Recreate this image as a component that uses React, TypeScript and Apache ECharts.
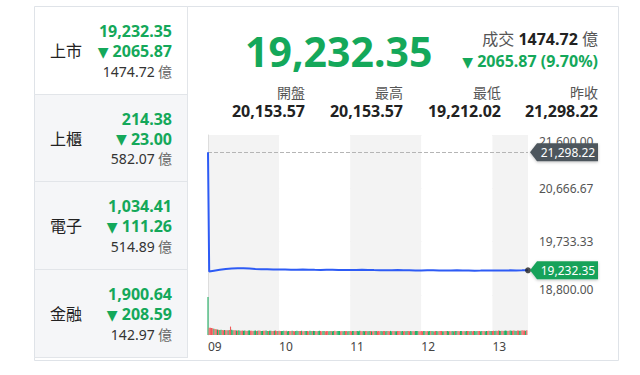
import React, { useEffect, useRef } from "react";
import * as echarts from "echarts";

const FONT = '"Noto Sans", "Noto Sans CJK TC", sans-serif';
const GREEN = "#14a85a";
const DARK = "#222222";
const GRAY = "#555555";

// left panel
const IDX_NAMES = ["上市", "上櫃", "電子", "金融"];
const IDX_PRICES = ["19,232.35", "214.38", "1,034.41", "1,900.64"];
const IDX_CHANGES = ["2065.87", "23.00", "111.26", "208.59"];
const IDX_VOLUMES = ["1474.72", "582.07", "514.89", "142.97"];

// header
const LAST = 19232.35;
const CHANGE_TEXT = "2065.87 (9.70%)";
const TURNOVER = "1474.72";
const STAT_LABELS = ["開盤", "最高", "最低", "昨收"];
const STAT_VALUES = ["20,153.57", "20,153.57", "19,212.02", "21,298.22"];
const PREV_CLOSE = 21298.22;

// chart
const HOURS = ["09", "10", "11", "12", "13"];
const Y_MIN = 18800;
const Y_MAX = 21600;
const LINE_TIMES = [0, 1, 5, 10, 15, 20, 25, 30, 35, 40, 45, 50, 55, 60, 65, 70, 75, 80, 85, 90, 95, 100, 105, 110, 115, 120, 125, 130, 135, 140, 145, 150, 155, 160, 165, 170, 175, 180, 185, 190, 195, 200, 205, 210, 215, 220, 225, 230, 235, 240, 245, 250, 255, 260, 265, 270];
const LINE_PRICES = [21298.22, 19212.02, 19226, 19240, 19254, 19262, 19266, 19270, 19263, 19256, 19250, 19252, 19248, 19245, 19246, 19244, 19242, 19245, 19243, 19240, 19238, 19240, 19241, 19239, 19236, 19237, 19238, 19240, 19239, 19236, 19234, 19233, 19235, 19236, 19234, 19232, 19230, 19229, 19231, 19232, 19230, 19228, 19229, 19231, 19230, 19228, 19226, 19227, 19229, 19230, 19228, 19229, 19231, 19230, 19231, 19232.35];

const VOLUME = [
  360, 70, 68, 66, 64, 60, 58, 55, 52, 50, 48, 50, 47, 46, 48, 45, 44, 46, 48, 80, 50, 46, 44, 45, 43, 42, 44, 41, 40, 42,
  41, 43, 40, 39, 42, 44, 41, 40, 38, 40, 42, 39, 41, 43, 40, 38, 39, 41, 40, 42, 39, 38, 40, 41, 39, 37, 40, 42, 38, 39,
  40, 38, 37, 39, 41, 38, 40, 36, 38, 39, 37, 40, 38, 36, 39, 41, 38, 37, 39, 40, 36, 38, 37, 39, 38, 36, 40, 37, 38, 39,
  37, 39, 36, 38, 40, 37, 36, 38, 39, 35, 37, 38, 36, 39, 37, 35, 38, 40, 36, 37, 39, 38, 36, 37, 35, 38, 37, 39, 36, 38,
  38, 36, 37, 39, 35, 37, 38, 36, 40, 37, 36, 38, 35, 37, 39, 36, 38, 37, 35, 36, 38, 39, 37, 36, 38, 35, 37, 36, 39, 38,
  36, 38, 37, 35, 39, 36, 37, 38, 36, 35, 37, 39, 38, 36, 37, 35, 38, 36, 39, 37, 36, 38, 35, 37, 36, 39, 38, 37, 36, 35,
  37, 36, 38, 39, 35, 37, 36, 38, 37, 39, 36, 35, 38, 37, 36, 39, 37, 38, 35, 36, 38, 37, 39, 36, 37, 35, 38, 36, 37, 39,
  38, 37, 36, 39, 37, 35, 38, 36, 37, 38, 39, 36, 37, 35, 38, 37, 36, 39, 38, 37, 36, 38, 37, 39, 36, 38, 37, 40, 38, 39,
  39, 41, 38, 40, 39, 42, 40, 38, 41, 39, 40, 42, 41, 39, 40, 43, 41, 40, 42, 41, 39, 43, 42, 40, 41, 44, 42, 43, 41, 45,
];
const VOLUME_DIR =
  "grrrrgrrgrggrrgrrgrrggrrgrggrr" +
  "ggrrggrrrggrgrrggrrggrggrrgrrg" +
  "rrgggrrggrrgrrgggrrgrrggrrggrg" +
  "grrggrrggrrrggrggrrgggrrggrrgg" +
  "rrggrrgggrrggrrggrgrrggrrrggrr" +
  "ggrrggrrggrrrggrrggrrggrrgggrr" +
  "rrggrrggrggrrggrrrggrrggrrggrg" +
  "grrggrrggrrggrrgggrrggrrggrrgg" +
  "rrggrrggrrgggrrggrrggrrggrrrgr";

const fmt2 = (v: number) =>
  v.toLocaleString("en-US", { minimumFractionDigits: 2, maximumFractionDigits: 2 });

function txt(text: string, x: number, y: number, size: number, color: string, align: string, bold = false) {
  return {
    type: "text",
    z: 50,
    style: {
      text,
      x,
      y,
      fill: color,
      font: `${bold ? "bold " : ""}${size}px ${FONT}`,
      textAlign: align,
      align,
      textVerticalAlign: "middle",
      verticalAlign: "middle",
    },
  };
}

function downText(value: string, x: number, y: number, size: number) {
  return {
    type: "text",
    z: 50,
    style: {
      text: `{t|▼}{v| ${value}}`,
      x, y, textAlign: "right", align: "right",
      textVerticalAlign: "middle", verticalAlign: "middle",
      rich: {
        t: { fontSize: 14, fontFamily: "DejaVu Sans", fill: GREEN, color: GREEN, padding: [1, 0, 0, 0] },
        v: { fontSize: size, fontFamily: FONT, fontWeight: "bold", fill: GREEN, color: GREEN },
      },
    },
  };
}

export default function App() {
  const ref = useRef<HTMLDivElement>(null);
  useEffect(() => {
    document.body.style.margin = "0";
    if (!ref.current) return;
    const chart = echarts.init(ref.current, undefined, { renderer: "svg" });
    const range = Y_MAX - Y_MIN;
    const splitArea = { show: true, areaStyle: { color: ["#f3f3f3", "#ffffff"] } };
    chart.setOption({
      animation: false,
      textStyle: { fontFamily: FONT },
      grid: [
        { left: 208, top: 135, width: 320, height: 160 },
        { left: 208, top: 295, width: 320, height: 40 },
      ],
      xAxis: [
        {
          type: "value", gridIndex: 0, min: 0, max: 270, interval: 60,
          axisLabel: { show: false }, axisLine: { show: false }, axisTick: { show: false },
          splitLine: { show: false }, splitArea,
        },
        {
          type: "value", gridIndex: 1, min: 0, max: 270, interval: 60,
          axisLabel: {
            show: true, align: "left", margin: 5, color: "#444", fontSize: 12, fontFamily: FONT,
            showMaxLabel: false,
            formatter: (v: number) => HOURS[Math.round(v / 60)] ?? "",
          },
          axisLine: { show: false }, axisTick: { show: false }, splitLine: { show: false }, splitArea,
        },
      ],
      yAxis: [
        {
          type: "value", gridIndex: 0, position: "right", min: 0, max: range, interval: range / 3,
          axisLine: { show: true, lineStyle: { color: "#dddddd" } },
          axisTick: { show: false },
          splitLine: { show: true, lineStyle: { color: "#ebebeb" } },
          axisLabel: {
            margin: 11, color: GRAY, fontSize: 12, fontFamily: FONT,
            verticalAlignMinLabel: "bottom", verticalAlignMaxLabel: "top",
            formatter: (v: number) => fmt2(v + Y_MIN),
          },
        },
        {
          type: "value", gridIndex: 1, position: "right", min: 0, max: 380,
          axisLine: { show: true, lineStyle: { color: "#dddddd" } },
          axisTick: { show: false }, axisLabel: { show: false }, splitLine: { show: false },
        },
      ],
      series: [
        {
          type: "line", xAxisIndex: 0, yAxisIndex: 0, symbol: "none", z: 5,
          lineStyle: { color: "#2d5bf5", width: 2 },
          data: LINE_TIMES.map((t, i) => [t, LINE_PRICES[i] - Y_MIN]),
          markLine: {
            silent: true, symbol: "none", label: { show: false },
            lineStyle: { type: "dashed", color: "#b5b5b5", width: 1 },
            data: [{ yAxis: PREV_CLOSE - Y_MIN }],
          },
        },
        {
          type: "scatter", xAxisIndex: 0, yAxisIndex: 0, symbolSize: 6, z: 6,
          itemStyle: { color: "#222" },
          data: [[LINE_TIMES[LINE_TIMES.length - 1], LAST - Y_MIN]],
        },
        {
          type: "bar", xAxisIndex: 1, yAxisIndex: 1, barWidth: 1.1,
          data: VOLUME.map((v, i) => ({
            value: [i, v],
            itemStyle: { color: VOLUME_DIR[i] === "r" ? "#f05a5a" : "#1fae62" },
          })),
        },
      ],
    });

    const xEnd = chart.convertToPixel({ xAxisIndex: 0 }, 270) as number;
    const marker = (value: number, bg: string) => {
      const y = chart.convertToPixel({ yAxisIndex: 0 }, value - Y_MIN) as number;
      const x0 = xEnd + 2;
      return [
        {
          type: "polygon", z: 60,
          shape: { points: [[x0, y], [x0 + 7, y - 9], [x0 + 68, y - 9], [x0 + 68, y + 9], [x0 + 7, y + 9]] },
          style: { fill: bg, shadowBlur: 3, shadowColor: "rgba(0,0,0,0.25)", shadowOffsetY: 1 },
        },
        { ...txt(fmt2(value), x0 + 38, y, 12, "#ffffff", "center"), z: 61 },
      ];
    };

    const rowTops = [6, 94, 181, 269];
    const rowBottoms = [94, 181, 269, 357];
    const left: any[] = [];
    IDX_NAMES.forEach((name, i) => {
      const c = (rowTops[i] + rowBottoms[i]) / 2;
      if (i > 0) {
        left.push({
          type: "rect", z: 1,
          shape: { x: 35, y: rowTops[i], width: 152.5, height: rowBottoms[i] - rowTops[i] },
          style: { fill: "#f5f6f8" },
        });
      }
      left.push({
        type: "line", z: 2,
        shape: { x1: 34, y1: rowBottoms[i] + 0.5, x2: 188, y2: rowBottoms[i] + 0.5 },
        style: { stroke: "#e2e5e9", lineWidth: 1 },
      });
      left.push(txt(name, 50, c + 1, 16, DARK, "left"));
      left.push(txt(IDX_PRICES[i], 172, c - 19, 16, GREEN, "right", true));
      left.push(downText(IDX_CHANGES[i], 172, c + 1, 16));
      left.push({
        type: "text", z: 50,
        style: {
          text: `{n|${IDX_VOLUMES[i]}} {u|億}`,
          x: 172, y: c + 21, textAlign: "right", align: "right",
          textVerticalAlign: "middle", verticalAlign: "middle",
          rich: {
            n: { fontSize: 14, fontFamily: FONT, fill: "#333", color: "#333" },
            u: { fontSize: 14, fontFamily: FONT, fill: "#666", color: "#666" },
          },
        },
      });
    });

    const statX = [305, 403, 501, 598];
    const header: any[] = [
      txt(fmt2(LAST), 245, 51, 41, GREEN, "left", true),
      {
        type: "text", z: 50,
        style: {
          text: `{a|成交 }{b|${TURNOVER}}{a| 億}`,
          x: 598, y: 39, textAlign: "right", align: "right",
          textVerticalAlign: "middle", verticalAlign: "middle",
          rich: {
            a: { fontSize: 16, fontFamily: FONT, fill: "#555", color: "#555" },
            b: { fontSize: 16, fontFamily: FONT, fontWeight: "bold", fill: DARK, color: DARK },
          },
        },
      },
      downText(CHANGE_TEXT, 598, 61, 16),
    ];
    STAT_LABELS.forEach((l, i) => {
      header.push(txt(l, statX[i], 92, 14, GRAY, "right"));
      header.push(txt(STAT_VALUES[i], statX[i], 111, 16, DARK, "right", true));
    });

    chart.setOption({
      graphic: [
        {
          type: "rect", z: 0,
          shape: { x: 34.5, y: 6.5, width: 584, height: 354 },
          style: { fill: "rgba(0,0,0,0)", stroke: "#dfe3e8", lineWidth: 1 },
        },
        ...left,
        {
          type: "line", z: 2,
          shape: { x1: 187.5, y1: 6, x2: 187.5, y2: 357 },
          style: { stroke: "#e2e5e9", lineWidth: 1 },
        },
        ...header,
        ...marker(PREV_CLOSE, "#4e565d"),
        ...marker(LAST, "#17a25a"),
      ],
    });
    return () => chart.dispose();
  }, []);
  return <div ref={ref} style={{ width: 640, height: 375 }} />;
}
